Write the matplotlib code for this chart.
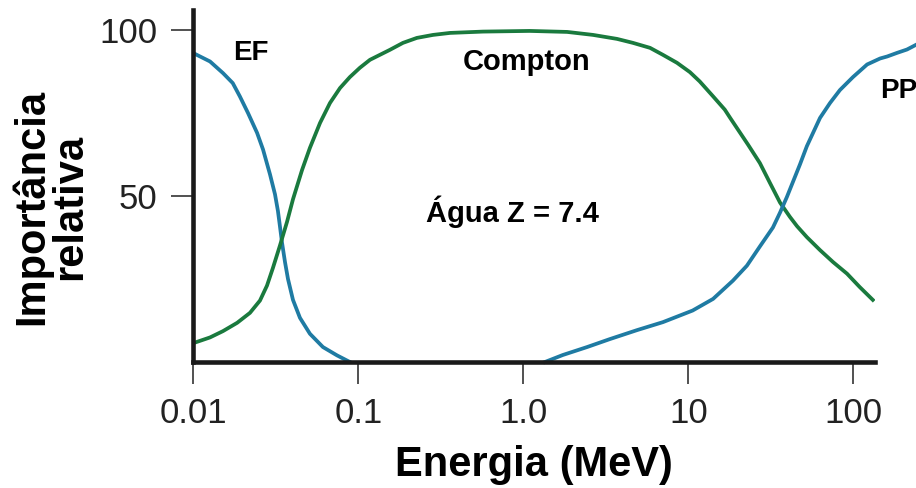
import numpy as np
import matplotlib
matplotlib.use("Agg")
import matplotlib.pyplot as plt

# relative importance of the three photon interactions in water
ef_energy = [0.01, 0.0126, 0.0151, 0.0173, 0.0191, 0.0214, 0.0243, 0.0264,
             0.0291, 0.0312, 0.0325, 0.0334, 0.0344, 0.0359, 0.0374, 0.0401,
             0.0442, 0.0508, 0.0609, 0.0741, 0.0887]
ef_value = [93.0, 90.5, 87.0, 84.0, 80.0, 75.0, 69.0, 64.0,
            56.5, 50.5, 45.5, 41.0, 36.0, 30.0, 25.0, 18.7,
            13.3, 8.5, 4.5, 2.0, 0.0]

compton_energy = [0.01, 0.0126, 0.0151, 0.0184, 0.022, 0.0253, 0.0279, 0.0303,
                  0.0334, 0.0369, 0.0401, 0.0455, 0.0508, 0.0585, 0.0672,
                  0.0773, 0.0887, 0.102, 0.1174, 0.155, 0.186, 0.226, 0.283,
                  0.359, 0.569, 1.09, 1.84, 2.64, 3.69, 4.61, 5.85, 7.0, 8.52,
                  10.2, 11.7, 14.1, 16.6, 17.9, 23.0, 27.1, 31.2, 35.9, 41.2,
                  45.5, 52.2, 62.7, 75.2, 91.4, 109.0, 131.0]
compton_value = [5.7, 7.4, 9.3, 11.8, 14.8, 18.5, 23.0, 28.3,
                 35.0, 42.2, 49.0, 57.8, 64.5, 72.0, 78.0,
                 82.5, 85.8, 88.6, 91.0, 94.0, 96.1, 97.6, 98.5,
                 99.1, 99.5, 99.7, 99.4, 98.5, 97.3, 96.1, 94.6, 92.5, 90.1,
                 87.3, 84.5, 80.0, 76.0, 73.5, 65.4, 59.9, 53.9, 48.0, 43.7,
                 40.9, 37.6, 33.7, 30.1, 26.6, 22.6, 18.7]

pp_energy = [1.35, 1.73, 2.43, 3.34, 4.88, 7.0, 10.6, 14.1, 18.6, 22.6, 27.1,
             32.5, 35.9, 39.5, 47.4, 52.2, 62.7, 72.1, 82.8, 99.3, 121.0,
             145.0, 160.0, 184.0, 211.0, 239.0]
pp_value = [0.0, 2.1, 4.5, 6.9, 9.6, 12.0, 15.5, 19.0, 24.5, 29.0, 34.8,
            40.5, 45.0, 49.7, 59.5, 65.0, 73.5, 78.0, 81.9, 85.8, 89.6,
            91.4, 92.0, 93.1, 94.1, 95.5]

x_ticks = [0.01, 0.1, 1.0, 10, 100]
x_ticklabels = ["0.01", "0.1", "1.0", "10", "100"]
y_ticks = [50, 100]
y_ticklabels = ["50", "100"]

blue = "#1f7ba3"
green = "#1a7a3e"
ink = "#1a1a1a"

plt.rcParams["font.family"] = ["Liberation Sans", "DejaVu Sans"]

fig = plt.figure(figsize=(9.16, 4.88), dpi=100)
ax = fig.add_axes([0.2112, 0.2582, 0.9552 - 0.2112, 0.9795 - 0.2582])

ax.plot(ef_energy, ef_value, color=blue, lw=2.7, solid_joinstyle="round")
ax.plot(compton_energy, compton_value, color=green, lw=2.7, solid_joinstyle="round")
ax.plot(pp_energy, pp_value, color=blue, lw=2.7, solid_joinstyle="round",
        clip_on=False)

ax.set_xscale("log")
ax.set_xlim(0.01, 135)
ax.set_ylim(0, 106)

ax.set_xticks(x_ticks)
ax.set_xticklabels(x_ticklabels)
ax.set_yticks(y_ticks)
ax.set_yticklabels(y_ticklabels)
ax.minorticks_off()

for side in ("top", "right"):
    ax.spines[side].set_visible(False)
for side in ("left", "bottom"):
    ax.spines[side].set_linewidth(3.3)
    ax.spines[side].set_color(ink)

ax.tick_params(axis="both", direction="out", length=16, width=1.2,
               color="#333333", labelsize=25, labelcolor="#222222")
ax.tick_params(axis="x", pad=9)
ax.tick_params(axis="y", pad=10)

ax.set_xlabel("Energia (MeV)", fontsize=30, fontweight="bold", labelpad=11)
fig.text(0.055, 0.576, "Importância\nrelativa", rotation=90, fontsize=30,
         fontweight="bold", ha="center", va="center", multialignment="center",
         linespacing=0.95)

ax.text(0.0173, 91, "EF", fontsize=20, fontweight="bold", ha="left", va="baseline")
ax.text(1.05, 88, "Compton", fontsize=21, fontweight="bold", ha="center", va="baseline")
ax.text(0.86, 42.2, "Água Z = 7.4", fontsize=21, fontweight="bold",
        ha="center", va="baseline")
ax.text(145, 79.5, "PP", fontsize=20, fontweight="bold", ha="left",
        va="baseline", clip_on=False)

fig.savefig("out.png", dpi=100)
